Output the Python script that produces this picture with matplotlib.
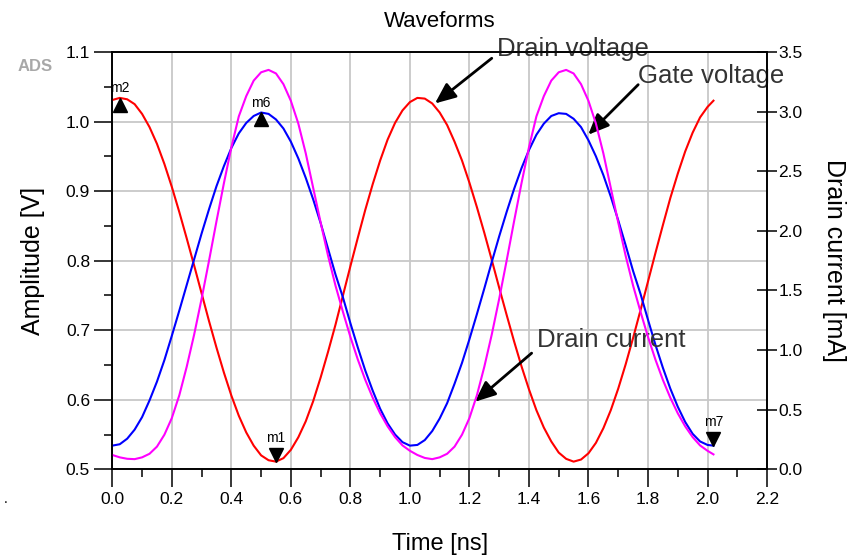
import numpy as np
import matplotlib
matplotlib.use('Agg')
import matplotlib.pyplot as plt
from matplotlib.transforms import offset_copy

# time grid in ns (sampled every 0.025 ns, last point is the end of the sweep)
time_ns = list(np.round(np.arange(0, 2.0001, 0.025), 3)) + [2.02]

# drain voltage [V], left axis
drain_v = [1.031, 1.034, 1.032, 1.025, 1.011, 0.992, 0.968, 0.939, 0.906, 0.870,
           0.832, 0.793, 0.753, 0.713, 0.675, 0.639, 0.606, 0.577, 0.553, 0.534,
           0.520, 0.513, 0.511, 0.516, 0.528, 0.546, 0.569, 0.598, 0.632, 0.669,
           0.708, 0.750, 0.792, 0.833, 0.873, 0.910, 0.944, 0.974, 0.998, 1.016,
           1.028, 1.034, 1.033, 1.026, 1.013, 0.995, 0.971, 0.944, 0.912, 0.877,
           0.840, 0.801, 0.761, 0.722, 0.684, 0.648, 0.615, 0.585, 0.560, 0.540,
           0.524, 0.515, 0.511, 0.514, 0.523, 0.538, 0.559, 0.585, 0.616, 0.651,
           0.689, 0.729, 0.770, 0.811, 0.851, 0.890, 0.925, 0.957, 0.984, 1.006,
           1.021, 1.030]

# gate voltage [V], left axis
gate_v = [0.534, 0.536, 0.544, 0.557, 0.575, 0.599, 0.626, 0.657, 0.692, 0.728,
          0.765, 0.802, 0.839, 0.874, 0.907, 0.936, 0.962, 0.983, 0.998, 1.008,
          1.013, 1.011, 1.003, 0.990, 0.971, 0.947, 0.919, 0.888, 0.854, 0.817,
          0.780, 0.747, 0.710, 0.675, 0.642, 0.613, 0.587, 0.566, 0.550, 0.539,
          0.534, 0.535, 0.542, 0.555, 0.573, 0.595, 0.623, 0.653, 0.687, 0.723,
          0.760, 0.798, 0.835, 0.870, 0.903, 0.933, 0.959, 0.981, 0.997, 1.008,
          1.012, 1.011, 1.004, 0.992, 0.973, 0.950, 0.923, 0.892, 0.858, 0.822,
          0.785, 0.752, 0.715, 0.679, 0.646, 0.616, 0.590, 0.568, 0.551, 0.540,
          0.535, 0.534]

# drain current [mA], right axis
drain_i = [0.12, 0.10, 0.088, 0.085, 0.10, 0.13, 0.19, 0.29, 0.43, 0.62,
           0.86, 1.13, 1.43, 1.75, 2.08, 2.40, 2.70, 2.96, 3.13, 3.26,
           3.33, 3.35, 3.32, 3.23, 3.09, 2.90, 2.65, 2.36, 2.07, 1.79,
           1.54, 1.32, 1.11, 0.92, 0.75, 0.60, 0.47, 0.36, 0.27, 0.20,
           0.155, 0.12, 0.095, 0.085, 0.10, 0.13, 0.19, 0.29, 0.43, 0.62,
           0.86, 1.13, 1.43, 1.75, 2.08, 2.40, 2.70, 2.96, 3.13, 3.26,
           3.33, 3.35, 3.32, 3.23, 3.09, 2.90, 2.65, 2.36, 2.07, 1.79,
           1.54, 1.32, 1.11, 0.92, 0.75, 0.60, 0.47, 0.36, 0.27, 0.20,
           0.155, 0.125]

# markers: name, time, which trace, pointing direction
marker_names = ['m2', 'm6', 'm1', 'm7']
marker_times = [0.025, 0.5, 0.55, 2.02]
marker_traces = ['drain', 'gate', 'drain', 'gate']
marker_up = [True, True, False, False]

x_ticks = [0.0, 0.2, 0.4, 0.6, 0.8, 1.0, 1.2, 1.4, 1.6, 1.8, 2.0, 2.2]
left_ticks = [0.5, 0.6, 0.7, 0.8, 0.9, 1.0, 1.1]
right_ticks = [0.0, 0.5, 1.0, 1.5, 2.0, 2.5, 3.0, 3.5]

plt.rcParams['font.family'] = ['Liberation Sans', 'DejaVu Sans']

fig = plt.figure(figsize=(8.6, 5.58), dpi=100)
ax = fig.add_axes([0.1306, 0.159, 0.7613, 0.7478])
ax2 = ax.twinx()

t = np.array(time_ns)
ax.plot(t, drain_v, color='#ff0000', lw=1.5, zorder=3)
ax.plot(t, gate_v, color='#0000ff', lw=1.5, zorder=3)
ax2.plot(t, drain_i, color='#ff00ff', lw=1.5, zorder=2)

ax.set_xlim(0, 2.2)
ax.set_ylim(0.5, 1.1)
ax2.set_ylim(0, 3.5)
ax.set_xticks(x_ticks)
ax.set_xticks(np.arange(0.1, 2.2, 0.2), minor=True)
ax.set_yticks(left_ticks)
ax.set_yticks(np.arange(0.55, 1.1, 0.1), minor=True)
ax2.set_yticks(right_ticks)
ax.set_xticklabels(['%.1f' % v for v in x_ticks])
ax.set_yticklabels(['%.1f' % v for v in left_ticks])
ax2.set_yticklabels(['%.1f' % v for v in right_ticks])

ax.grid(True, which='major', color='#c8c8c8', lw=1.3)
ax.set_axisbelow(True)
ax.tick_params(axis='both', which='major', direction='out', length=13, width=1.1,
               labelsize=12.5, pad=3)
ax.tick_params(axis='both', which='minor', direction='out', length=6, width=1.1)
ax2.tick_params(axis='y', which='major', direction='inout', length=14, width=1.1,
                labelsize=12.5, pad=1)
for a in (ax, ax2):
    for s in a.spines.values():
        s.set_linewidth(1.2)
        s.set_color('black')

ax.set_title('Waveforms', fontsize=16, pad=18)
ax.set_xlabel('Time [ns]', fontsize=17)
ax.set_ylabel('Amplitude [V]', fontsize=18)
ax2.set_ylabel('Drain current [mA]', fontsize=18, rotation=270)
ax.xaxis.set_label_coords(0.5, -0.153)
ax.yaxis.set_label_coords(-0.103, 0.5)
ax2.yaxis.set_label_coords(1.12, 0.5)

# markers
traces = {'drain': drain_v, 'gate': gate_v}
for name, mt, tr, up in zip(marker_names, marker_times, marker_traces, marker_up):
    i = int(np.argmin(np.abs(t - mt)))
    y = traces[tr][i]
    off = offset_copy(ax.transData, fig=fig, x=0, y=-5 if up else 5, units='points')
    ax.plot(t[i], y, marker='^' if up else 'v', ms=10, color='black', mec='black',
            transform=off, zorder=5, clip_on=False)
    ax.annotate(name, (t[i], y), xytext=(0, 7 if up else 17), textcoords='offset points',
                ha='center', va='center', fontsize=10, zorder=6, annotation_clip=False)

# callouts: text, arrow tip, arrow tail, text anchor
arrow = dict(arrowstyle='-|>,head_length=0.7,head_width=0.3', color='black', lw=2,
             mutation_scale=18, shrinkA=0, shrinkB=0)
callouts = [('Drain voltage', (1.084, 1.026), (1.275, 1.091), (1.292, 1.105)),
            ('Gate voltage', (1.599, 0.981), (1.767, 1.053), (1.767, 1.066)),
            ('Drain current', (1.218, 0.597), (1.409, 0.667), (1.426, 0.686))]
for label, tip, tail, txt in callouts:
    ax.annotate('', xy=tip, xytext=tail, arrowprops=arrow, annotation_clip=False, zorder=7)
    ax.text(txt[0], txt[1], label, fontsize=18.5, color='#333333',
            ha='left', va='center', zorder=7, clip_on=False)

fig.text(0.021, 0.881, 'ADS', fontsize=12, fontweight='bold', color='#a8a8a8',
         ha='left', va='center')
fig.text(0.004, 0.098, '.', fontsize=10, color='black')

fig.savefig('out.png', dpi=100)
